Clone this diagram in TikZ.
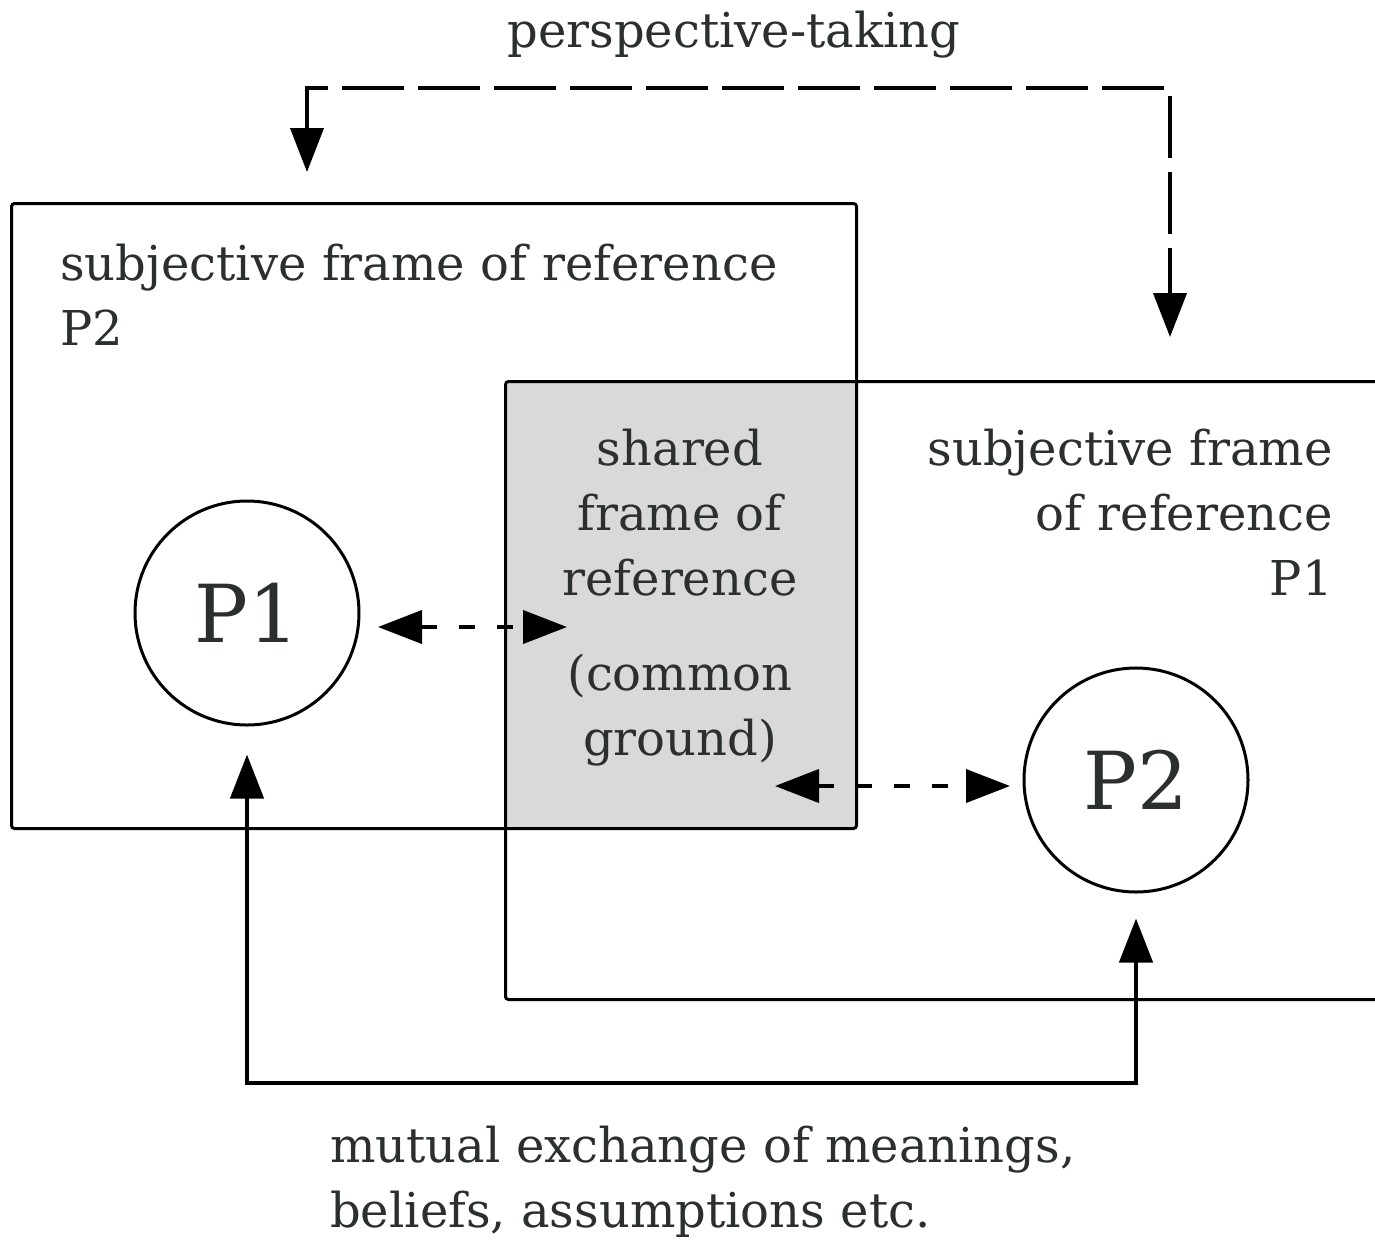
\documentclass[tikz,border=0pt]{standalone}
\usepackage{fontspec}
\setmainfont{DejaVu Serif}
\usetikzlibrary{arrows.meta,calc}

\definecolor{inkgray}{HTML}{2B2F2E}
\definecolor{sharedgray}{HTML}{D9D9D9}

\begin{document}
\begin{tikzpicture}[x=1pt,y=-1pt,
        bigtip/.tip={Triangle[length=44pt,width=33pt]},
        frameBox/.style={draw=black, line width=3pt, rounded corners=3pt, inner sep=0pt, anchor=north west},
        person/.style={circle, draw=black, line width=3pt, minimum size=224pt, inner sep=0pt, text=inkgray, font=\fontsize{80}{80}\selectfont},
        lbl/.style={text=inkgray, inner sep=0pt, font=\fontsize{48}{65}\selectfont},
        longDash/.style={line width=4pt, dash pattern=on 62pt off 14pt, bigtip-bigtip},
        shortDash/.style={line width=4pt, dash pattern=on 16pt off 22pt, bigtip-bigtip},
        solidLink/.style={line width=4.5pt, bigtip-bigtip}]
        \useasboundingbox (0,0) rectangle (1375,1240);
        \clip (0,0) rectangle (1375,1240);

        % Draw the frames
        \node[frameBox, draw=none, fill=sharedgray, minimum width=351pt, minimum height=447pt] (shared) at (504,380) {};
        \node[frameBox, minimum width=845pt, minimum height=625pt] (frameP2) at (10,202) {};
        \node[frameBox, minimum width=1000pt, minimum height=618pt] (frameP1) at (504,380) {};

        % Labels for the frames
        \node[lbl, anchor=north west, align=left] (lblP2) at (60,244) {subjective frame of reference\\P2};
        \node[lbl, anchor=north east, align=right] (lblP1) at (1333,429) {subjective frame\\of reference\\P1};
        \node[lbl, anchor=north, align=center] (lblShared) at (680,429) {shared\\frame of\\reference\\[30pt](common\\ground)};

        % The two persons
        \node[person] (p1) at (247,613) {P1};
        \node[person] (p2) at (1136,780) {P2};

        % Perspective-taking
        \coordinate (ptL) at (307,172);
        \coordinate (ptR) at (1170,337);
        \coordinate (ptBar) at (0,88);
        \draw[longDash] (ptL) -- (ptL |- ptBar) -- (ptR |- ptBar) -- (ptR);
        \node[lbl, anchor=base] (lblPersp) at (734,47) {perspective-taking};

        % Links to the shared frame
        \coordinate (d1a) at (378,627);
        \coordinate (d1b) at (567,627);
        \draw[shortDash] (d1a) -- (d1b);
        \coordinate (d2a) at (775,786);
        \coordinate (d2b) at (1010,786);
        \draw[shortDash] (d2a) -- (d2b);

        % Mutual exchange
        \coordinate (exBar) at (0,1083);
        \draw[solidLink, shorten <=28pt, shorten >=25pt] (p1.south) -- (p1.south |- exBar) -- (p2.south |- exBar) -- (p2.south);
        \node[lbl, anchor=north west, align=left] (lblExch) at (330,1126) {mutual exchange of meanings,\\beliefs, assumptions etc.};
    \end{tikzpicture}
\end{document}
